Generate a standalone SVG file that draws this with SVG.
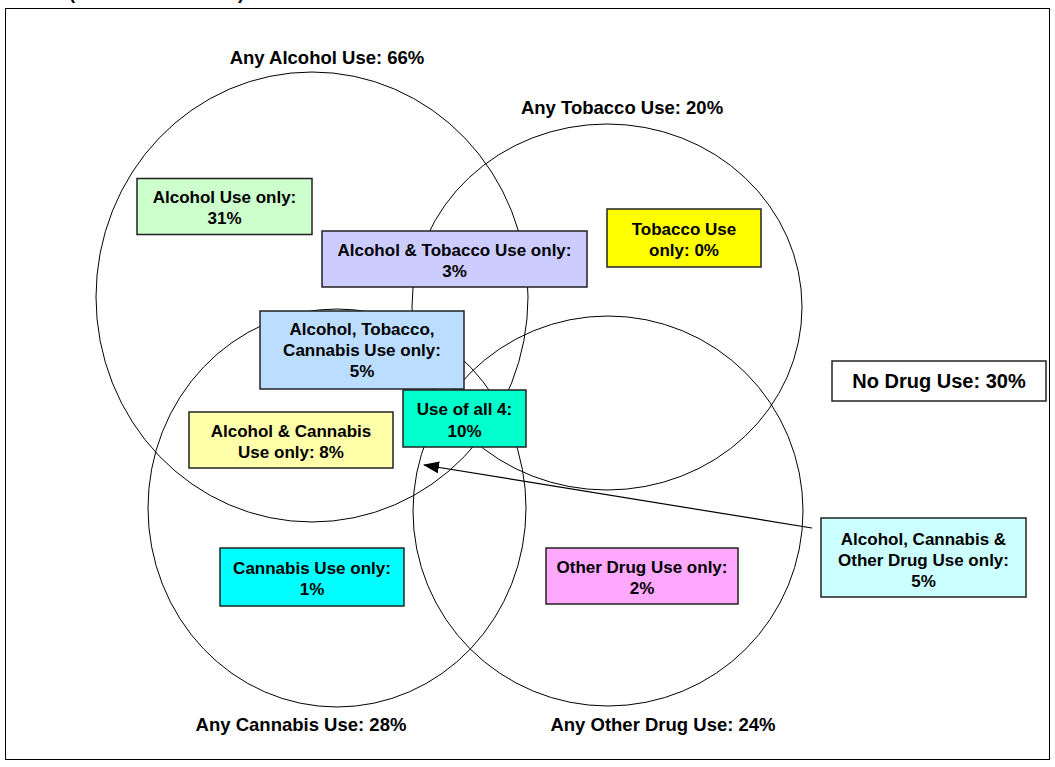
<svg xmlns="http://www.w3.org/2000/svg" width="1055" height="767" viewBox="0 0 1055 767">
<style>
  .frame { fill: #ffffff; stroke: #000000; stroke-width: 1; }
  .set { fill: none; stroke: #000000; stroke-width: 1; }
  .box { stroke: #222222; stroke-width: 1.5; }
  .t { font-family: "Liberation Sans", Arial, sans-serif; font-weight: bold; font-size: 17px; fill: #000000; text-anchor: middle; }
  .lbl { font-family: "Liberation Sans", Arial, sans-serif; font-weight: bold; font-size: 18.5px; fill: #000000; text-anchor: middle; }
  .big { font-size: 20px; }
  .conn { fill: none; stroke: #000000; stroke-width: 1.2; }
</style>
<defs>
  <marker id="arrow" markerWidth="16" markerHeight="12" refX="15" refY="6" orient="auto" markerUnits="userSpaceOnUse">
    <path d="M0,0 L16,6 L0,12 Z" fill="#000000"/>
  </marker>
</defs>
<rect x="0" y="0" width="1055" height="767" fill="#ffffff"/>
<text class="lbl" x="72" y="-1">(</text>
<text class="lbl" x="241" y="-1">)</text>
<rect class="frame" x="5.5" y="8.5" width="1044" height="751"/>

<g id="sets">
  <g id="set-alcohol">
    <ellipse class="set" cx="312" cy="297" rx="216" ry="225"/>
    <text class="lbl" x="327" y="64">Any Alcohol Use: 66%</text>
  </g>
  <g id="set-tobacco">
    <ellipse class="set" cx="607" cy="307" rx="195" ry="183"/>
    <text class="lbl" x="622" y="114">Any Tobacco Use: 20%</text>
  </g>
  <g id="set-cannabis">
    <ellipse class="set" cx="337" cy="508" rx="189" ry="199"/>
    <text class="lbl" x="301" y="731">Any Cannabis Use: 28%</text>
  </g>
  <g id="set-other">
    <ellipse class="set" cx="608" cy="511" rx="195" ry="195"/>
    <text class="lbl" x="663" y="731">Any Other Drug Use: 24%</text>
  </g>
</g>

<g id="alcohol-only">
  <rect class="box" x="137" y="178.5" width="175" height="56" fill="#CCFFCC"/>
  <text class="t" x="224.5" y="203">Alcohol Use only:</text>
  <text class="t" x="224.5" y="224">31%</text>
</g>
<g id="alcohol-tobacco">
  <rect class="box" x="322" y="231" width="265" height="56" fill="#CCCCFF"/>
  <text class="t" x="454.5" y="256">Alcohol &amp; Tobacco Use only:</text>
  <text class="t" x="454.5" y="277">3%</text>
</g>
<g id="tobacco-only">
  <rect class="box" x="607" y="209" width="154" height="58" fill="#FFFF00"/>
  <text class="t" x="684" y="235">Tobacco Use</text>
  <text class="t" x="684" y="256">only: 0%</text>
</g>
<g id="alcohol-tobacco-cannabis">
  <rect class="box" x="260" y="311" width="204" height="78" fill="#BBDDFF"/>
  <text class="t" x="362" y="335">Alcohol, Tobacco,</text>
  <text class="t" x="362" y="356">Cannabis Use only:</text>
  <text class="t" x="362" y="377">5%</text>
</g>
<g id="all-four">
  <rect class="box" x="403" y="390" width="123" height="57" fill="#00FFCC"/>
  <text class="t" x="464.5" y="415">Use of all 4:</text>
  <text class="t" x="464.5" y="437">10%</text>
</g>
<g id="alcohol-cannabis">
  <rect class="box" x="189" y="412" width="204" height="56" fill="#FFFFAA"/>
  <text class="t" x="291" y="437">Alcohol &amp; Cannabis</text>
  <text class="t" x="291" y="458">Use only: 8%</text>
</g>
<g id="no-drug">
  <rect class="box" x="832" y="361" width="214" height="40" fill="#FFFFFF"/>
  <text class="t big" x="939" y="388">No Drug Use: 30%</text>
</g>
<g id="alcohol-cannabis-other">
  <rect class="box" x="821" y="518" width="205" height="79" fill="#CCFFFF"/>
  <text class="t" x="923.5" y="545">Alcohol, Cannabis &amp;</text>
  <text class="t" x="923.5" y="566">Other Drug Use only:</text>
  <text class="t" x="923.5" y="587">5%</text>
</g>
<g id="cannabis-only">
  <rect class="box" x="220" y="548" width="184" height="58" fill="#00FFFF"/>
  <text class="t" x="312" y="574">Cannabis Use only:</text>
  <text class="t" x="312" y="595">1%</text>
</g>
<g id="other-only">
  <rect class="box" x="546" y="548" width="192" height="56" fill="#FFA8FF"/>
  <text class="t" x="642" y="573">Other Drug Use only:</text>
  <text class="t" x="642" y="594">2%</text>
</g>

<g id="connectors">
  <line class="conn" x1="812" y1="528" x2="424" y2="465" marker-end="url(#arrow)"/>
</g>
</svg>
